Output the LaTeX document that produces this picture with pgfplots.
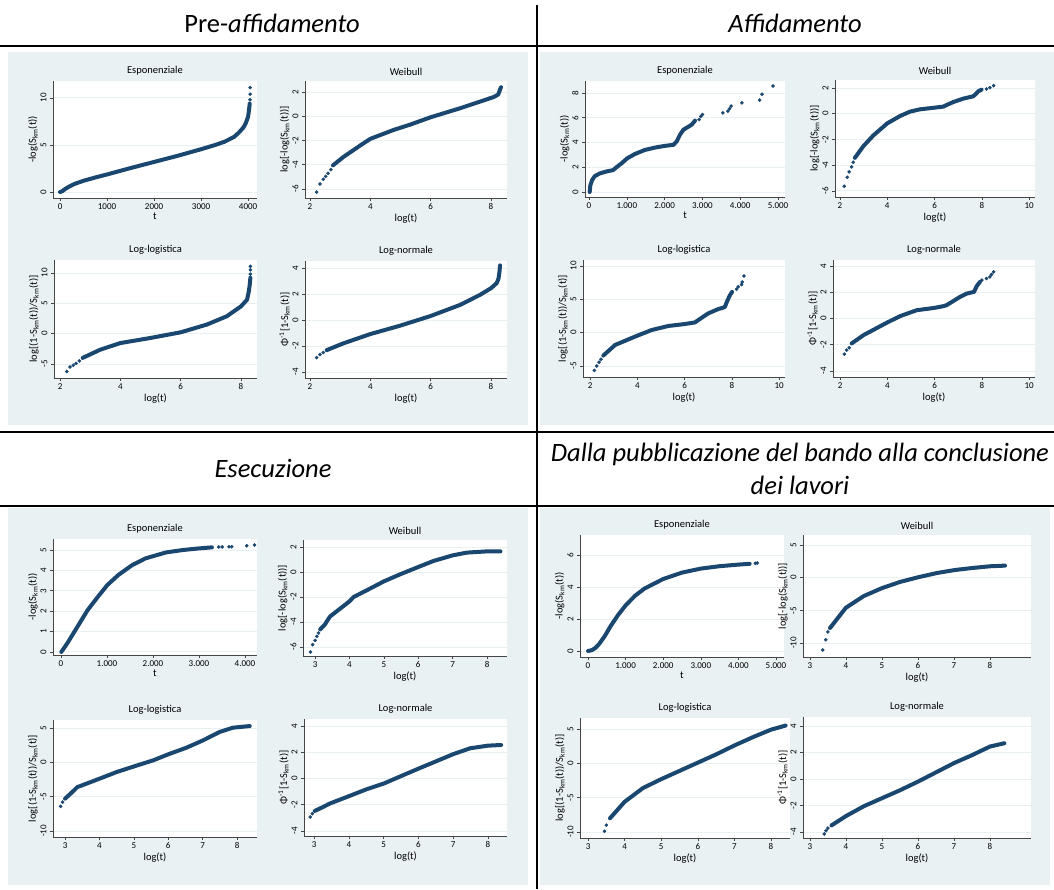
\documentclass[border=0pt]{standalone}
\usepackage{pgfplots}
\pgfplotsset{compat=1.18}
\usepackage{fontspec}
\setmainfont{Carlito}
\definecolor{navy}{RGB}{26,71,111}
\definecolor{panelbg}{RGB}{233,241,243}
\definecolor{gridc}{RGB}{232,240,242}
\definecolor{axc}{RGB}{70,70,70}
\pgfplotsset{
 sp/.style={scale only axis, anchor=south west,
  axis x line*=bottom, axis y line*=left,
  axis background/.style={fill=white},
  ymajorgrids, major grid style={gridc, line width=0.9pt},
  axis line style={axc, line width=0.6pt, -},
  tick style={axc, line width=0.6pt},
  major tick length=3pt, tick align=outside,
  scaled ticks=false,
  /pgf/number format/assume math mode=true,
  ticklabel style={font=\fontsize{9}{10}\selectfont},
  xticklabel style={yshift=1pt},
  yticklabel style={rotate=90, anchor=south},
  label style={font=\fontsize{10.5}{12}\selectfont},
  xlabel style={yshift=3pt},
  ylabel style={yshift=-4pt},
  title style={font=\fontsize{10.5}{12}\selectfont, yshift=-4pt},
 },
 band/.style={navy, line width=4pt, line cap=round, line join=round, mark=none},
 dots/.style={only marks, mark=*, mark size=1.6pt, navy},
}
\begin{document}
\begin{tikzpicture}[x=1pt,y=1pt]
\path[use as bounding box] (0,0) rectangle (1054,889);
% panel backgrounds
\fill[panelbg] (8,464) rectangle (528,837);
\fill[panelbg] (540,464) rectangle (1054,837);
\fill[panelbg] (8,4) rectangle (528,381);
\fill[panelbg] (540,4) rectangle (1050,381);
% table lines
\draw[line width=1.3pt] (0,843) -- (1054,843);
\draw[line width=1.3pt] (0,457) -- (1054,457);
\draw[line width=1.3pt] (0,383) -- (1054,383);
\draw[line width=1.3pt] (537,884) -- (537,0);
% headers
\node[font=\fontsize{26.5}{30}\selectfont] at (272,866) {Pre-\textit{affidamento}};
\node[font=\fontsize{26.5}{30}\selectfont] at (795,866) {\textit{Affidamento}};
\node[font=\fontsize{26.5}{30}\selectfont] at (273,421) {\textit{Esecuzione}};
\node[font=\fontsize{26.5}{32.5}\selectfont, align=center] at (800,420) {\textit{Dalla pubblicazione del bando alla conclusione}\\\textit{dei lavori}};

% ===== TL: Pre-affidamento =====
\begin{axis}[sp, at={(53pt,691pt)}, width=204pt, height=117pt,
 xmin=-150, xmax=4190, ymin=-0.63, ymax=11.8,
 xtick={0,1000,2000,3000,4000}, xticklabels={0,1000,2000,3000,4000},
 ytick={0,5,10}, title={Esponenziale}, xlabel={t}, ylabel={-log(S\textsubscript{km}(t))}]
\addplot[band] coordinates {(0,0) (50,0.1) (100,0.3) (200,0.6) (300,0.85) (500,1.2) (750,1.55) (1000,1.87) (1500,2.55) (2000,3.2) (2500,3.85) (3000,4.55) (3300,5.0) (3500,5.35) (3700,5.85) (3800,6.3) (3900,6.85) (3950,7.3) (4000,8.0) (4020,8.7) (4035,9.4)};
\addplot[dots] coordinates {(4040,9.8) (4045,10.4) (4045,11.1)};
\end{axis}
\begin{axis}[sp, at={(305pt,691pt)}, width=202pt, height=117pt,
 xmin=1.834, xmax=8.53, ymin=-6.74, ymax=2.91,
 xtick={2,4,6,8}, ytick={-6,-4,-2,0,2}, title={Weibull}, xlabel={log(t)}, ylabel={log[-log(S\textsubscript{km}(t))]}]
\addplot[dots] coordinates {(2.22,-6.25) (2.33,-5.58) (2.44,-5.2) (2.52,-4.96) (2.6,-4.7) (2.69,-4.4)};
\addplot[band] coordinates {(2.76,-4.05) (3.1,-3.37) (3.67,-2.4) (4.0,-1.86) (4.78,-1.12) (5.33,-0.68) (6.0,-0.08) (7.0,0.68) (7.89,1.42) (8.1,1.6) (8.24,1.8) (8.3,2.2) (8.33,2.4)};
\end{axis}
\begin{axis}[sp, at={(54pt,511pt)}, width=203pt, height=118pt,
 xmin=1.80, xmax=8.53, ymin=-7.31, ymax=12.14,
 xtick={2,4,6,8}, ytick={-5,0,5,10}, title={Log-logistica}, xlabel={log(t)}, ylabel={log[(1-S\textsubscript{km}(t))/S\textsubscript{km}(t)]}]
\addplot[dots] coordinates {(2.22,-6.24) (2.33,-5.5) (2.44,-5.2) (2.53,-4.9) (2.64,-4.5)};
\addplot[band] coordinates {(2.75,-4.0) (3.33,-2.65) (4.0,-1.55) (4.99,-0.72) (6.0,0.22) (6.87,1.5) (7.53,2.87) (8.0,4.5) (8.2,5.6) (8.26,7.0) (8.29,8.1) (8.31,9.2)};
\addplot[dots] coordinates {(8.31,9.8) (8.31,10.5) (8.31,11.1)};
\end{axis}
\begin{axis}[sp, at={(305pt,511pt)}, width=202pt, height=117pt,
 xmin=1.834, xmax=8.53, ymin=-4.46, ymax=4.54,
 xtick={2,4,6,8}, ytick={-4,-2,0,2,4}, title={Log-normale}, xlabel={log(t)}, ylabel={Φ\textsuperscript{-1}[1-S\textsubscript{km}(t)]}]
\addplot[dots] coordinates {(2.22,-2.89) (2.33,-2.66) (2.44,-2.5)};
\addplot[band] coordinates {(2.55,-2.32) (3.1,-1.8) (4.0,-1.08) (4.98,-0.44) (6.0,0.31) (6.97,1.16) (7.64,1.94) (8.0,2.45) (8.19,2.84) (8.25,3.2) (8.28,3.7) (8.3,4.2)};
\end{axis}

% ===== TR: Affidamento =====
\begin{axis}[sp, at={(585pt,692pt)}, width=200pt, height=116pt,
 xmin=-106, xmax=5185, ymin=-0.40, ymax=8.97,
 xtick={0,1000,2000,3000,4000,5000}, xticklabels={0,1.000,2.000,3.000,4.000,5.000},
 ytick={0,2,4,6,8}, title={Esponenziale}, xlabel={t}, ylabel={-log(S\textsubscript{km}(t))}]
\addplot[band] coordinates {(18,0) (35,0.54) (80,0.95) (150,1.28) (283,1.5) (460,1.66) (637,1.77) (725,2.0) (858,2.31) (1009,2.72) (1212,3.07) (1478,3.4) (1743,3.59) (2009,3.73) (2230,3.81) (2318,4.08) (2407,4.63) (2496,5.03) (2717,5.44) (2805,5.77)};
\addplot[dots] coordinates {(2912,5.85) (2956,6.1) (3000,6.26) (3540,6.39) (3673,6.53) (3717,6.72) (3761,6.94) (4044,7.21) (4513,7.43) (4575,7.9) (4867,8.57)};
\end{axis}
\begin{axis}[sp, at={(835pt,692pt)}, width=200pt, height=117pt,
 xmin=1.79, xmax=10.25, ymin=-6.47, ymax=2.62,
 xtick={2,4,6,8,10}, ytick={-6,-4,-2,0,2}, title={Weibull}, xlabel={log(t)}, ylabel={log[-log(S\textsubscript{km}(t))]}]
\addplot[dots] coordinates {(2.18,-5.64) (2.31,-4.94) (2.39,-4.52) (2.49,-4.13) (2.56,-3.77)};
\addplot[band] coordinates {(2.63,-3.43) (2.99,-2.52) (3.41,-1.69) (4.0,-0.75) (4.54,-0.18) (4.96,0.16) (5.38,0.34) (6.0,0.47) (6.37,0.55) (6.51,0.68) (6.8,0.91) (7.21,1.17) (7.63,1.35) (7.73,1.5) (7.85,1.74) (7.99,1.87)};
\addplot[dots] coordinates {(8.2,1.92) (8.34,2.03) (8.5,2.18)};
\end{axis}
\begin{axis}[sp, at={(583pt,512pt)}, width=202pt, height=117pt,
 xmin=1.70, xmax=10.25, ymin=-6.65, ymax=10.9,
 xtick={2,4,6,8,10}, ytick={-5,0,5,10}, title={Log-logistica}, xlabel={log(t)}, ylabel={log[(1-S\textsubscript{km}(t))/S\textsubscript{km}(t)]}]
\addplot[dots] coordinates {(2.18,-5.67) (2.28,-5.0) (2.38,-4.43) (2.46,-3.98)};
\addplot[band] coordinates {(2.56,-3.43) (3.06,-1.84) (4.0,-0.45) (4.61,0.4) (5.31,1.0) (6.0,1.29) (6.44,1.54) (6.58,1.89) (7.0,2.89) (7.42,3.53) (7.7,3.83) (7.82,4.88) (7.92,5.62) (8.01,6.12)};
\addplot[dots] coordinates {(8.2,6.52) (8.27,6.87) (8.41,7.21) (8.44,7.61) (8.51,8.5)};
\end{axis}
\begin{axis}[sp, at={(833pt,512pt)}, width=202pt, height=117pt,
 xmin=1.70, xmax=10.25, ymin=-4.46, ymax=4.46,
 xtick={2,4,6,8,10}, ytick={-4,-2,0,2,4}, title={Log-normale}, xlabel={log(t)}, ylabel={Φ\textsuperscript{-1}[1-S\textsubscript{km}(t)]}]
\addplot[dots] coordinates {(2.18,-2.72) (2.28,-2.41) (2.39,-2.23)};
\addplot[band] coordinates {(2.49,-1.9) (2.99,-1.27) (4.0,-0.3) (4.54,0.18) (5.24,0.63) (6.0,0.81) (6.37,0.94) (6.51,1.02) (7.08,1.65) (7.36,1.9) (7.67,2.03) (7.78,2.46) (7.92,2.79)};
\addplot[dots] coordinates {(8.0,2.92) (8.2,3.05) (8.34,3.17) (8.41,3.35) (8.5,3.55)};
\end{axis}

% ===== BL: Esecuzione =====
\begin{axis}[sp, at={(53pt,234pt)}, width=204pt, height=116pt,
 xmin=-174, xmax=4261, ymin=-0.15, ymax=5.54,
 xtick={0,1000,2000,3000,4000}, xticklabels={0,1.000,2.000,3.000,4.000},
 ytick={0,1,2,3,4,5}, title={Esponenziale}, xlabel={t}, ylabel={-log(S\textsubscript{km}(t))}]
\addplot[band] coordinates {(7,0) (133,0.41) (356,1.23) (578,2.05) (800,2.7) (1007,3.28) (1244,3.77) (1541,4.25) (1837,4.59) (2007,4.7) (2281,4.88) (2652,5.0) (3007,5.08) (3281,5.13)};
\addplot[dots] coordinates {(3430,5.15) (3504,5.15) (3652,5.16) (3711,5.16) (4037,5.21) (4207,5.25)};
\end{axis}
\begin{axis}[sp, at={(303pt,233pt)}, width=204pt, height=116pt,
 xmin=2.65, xmax=8.58, ymin=-6.72, ymax=2.56,
 xtick={3,4,5,6,7,8}, ytick={-6,-4,-2,0,2}, title={Weibull}, xlabel={log(t)}, ylabel={log[-log(S\textsubscript{km}(t))]}]
\addplot[dots] coordinates {(2.87,-6.4) (2.93,-5.81) (3.0,-5.47) (3.05,-5.15) (3.1,-4.88)};
\addplot[band] coordinates {(3.15,-4.59) (3.29,-4.19) (3.36,-3.87) (3.44,-3.55) (3.73,-2.93) (4.0,-2.35) (4.12,-2.0) (4.5,-1.47) (5.0,-0.75) (5.47,-0.19) (6.0,0.4) (6.44,0.88) (7.0,1.33) (7.41,1.55) (8.0,1.65) (8.39,1.65)};
\end{axis}
\begin{axis}[sp, at={(53pt,52pt)}, width=204pt, height=117pt,
 xmin=2.65, xmax=8.58, ymin=-10.87, ymax=6.17,
 xtick={3,4,5,6,7,8}, ytick={-10,-5,0,5}, title={Log-logistica}, xlabel={log(t)}, ylabel={log[(1-S\textsubscript{km}(t))/S\textsubscript{km}(t)]}]
\addplot[dots] coordinates {(2.87,-6.41) (2.93,-5.78)};
\addplot[band] coordinates {(3.0,-5.29) (3.19,-4.42) (3.36,-3.59) (3.44,-3.45) (4.0,-2.38) (4.5,-1.41) (5.01,-0.58) (5.56,0.29) (6.0,1.17) (6.53,2.14) (7.01,3.2) (7.49,4.42) (7.88,5.05) (8.37,5.29)};
\end{axis}
\begin{axis}[sp, at={(304pt,53pt)}, width=203pt, height=117pt,
 xmin=2.71, xmax=8.55, ymin=-4.38, ymax=4.53,
 xtick={3,4,5,6,7,8}, ytick={-4,-2,0,2,4}, title={Log-normale}, xlabel={log(t)}, ylabel={Φ\textsuperscript{-1}[1-S\textsubscript{km}(t)]}]
\addplot[dots] coordinates {(2.89,-2.93) (2.95,-2.68)};
\addplot[band] coordinates {(3.02,-2.47) (3.26,-2.17) (3.45,-1.91) (4.0,-1.35) (4.51,-0.82) (5.01,-0.38) (5.57,0.26) (6.02,0.77) (6.53,1.33) (7.01,1.86) (7.49,2.3) (8.0,2.5) (8.38,2.55)};
\end{axis}

% ===== BR: Dalla pubblicazione =====
\begin{axis}[sp, at={(580pt,232pt)}, width=204pt, height=122pt,
 xmin=-213, xmax=5213, ymin=-0.375, ymax=7.25,
 xtick={0,1000,2000,3000,4000,5000}, xticklabels={0,1.000,2.000,3.000,4.000,5.000},
 ytick={0,2,4,6}, title={Esponenziale}, xlabel={t}, ylabel={-log(S\textsubscript{km}(t))}]
\addplot[band] coordinates {(0,0) (100,0.05) (200,0.2) (300,0.45) (450,0.95) (600,1.55) (800,2.25) (1000,2.85) (1250,3.45) (1500,3.9) (2000,4.5) (2500,4.9) (3000,5.15) (3500,5.3) (4000,5.4) (4300,5.45)};
\addplot[dots] coordinates {(4450,5.48) (4500,5.5)};
\end{axis}
\begin{axis}[sp, at={(803pt,232pt)}, width=228pt, height=122pt,
 xmin=2.81, xmax=9.14, ymin=-12.14, ymax=6.54,
 xtick={3,4,5,6,7,8}, ytick={-10,-5,0,5}, title={Weibull}, xlabel={log(t)}, ylabel={log[-log(S\textsubscript{km}(t))]}]
\addplot[dots] coordinates {(3.36,-11.07) (3.44,-9.5) (3.5,-8.3)};
\addplot[band] coordinates {(3.56,-7.7) (4.0,-4.6) (4.5,-2.8) (5.0,-1.6) (5.5,-0.65) (6.03,0.1) (6.53,0.72) (7.03,1.18) (7.53,1.5) (8.0,1.75) (8.42,1.85)};
\end{axis}
\begin{axis}[sp, at={(580pt,51pt)}, width=210pt, height=120pt,
 xmin=2.78, xmax=8.52, ymin=-10.87, ymax=6.6,
 xtick={3,4,5,6,7,8}, ytick={-10,-5,0,5}, title={Log-logistica}, xlabel={log(t)}, ylabel={log[(1-S\textsubscript{km}(t))/S\textsubscript{km}(t)]}]
\addplot[dots] coordinates {(3.4,-11.1) (3.45,-9.9) (3.5,-9.0)};
\addplot[band] coordinates {(3.6,-8.0) (4.0,-5.6) (4.5,-3.6) (5.0,-2.3) (5.5,-1.1) (6.0,0.1) (6.5,1.3) (7.0,2.6) (7.5,3.8) (8.0,4.9) (8.4,5.5)};
\end{axis}
\begin{axis}[sp, at={(803pt,51pt)}, width=228pt, height=121pt,
 xmin=2.81, xmax=9.14, ymin=-4.45, ymax=4.68,
 xtick={3,4,5,6,7,8}, ytick={-4,-2,0,2,4}, title={Log-normale}, xlabel={log(t)}, ylabel={Φ\textsuperscript{-1}[1-S\textsubscript{km}(t)]}]
\addplot[dots] coordinates {(3.4,-4.15) (3.45,-3.9) (3.5,-3.7)};
\addplot[band] coordinates {(3.6,-3.5) (4.0,-2.8) (4.5,-2.05) (5.0,-1.45) (5.5,-0.85) (6.0,-0.2) (6.5,0.5) (7.0,1.2) (7.5,1.8) (8.0,2.45) (8.4,2.7)};
\end{axis}
\end{tikzpicture}
\end{document}
